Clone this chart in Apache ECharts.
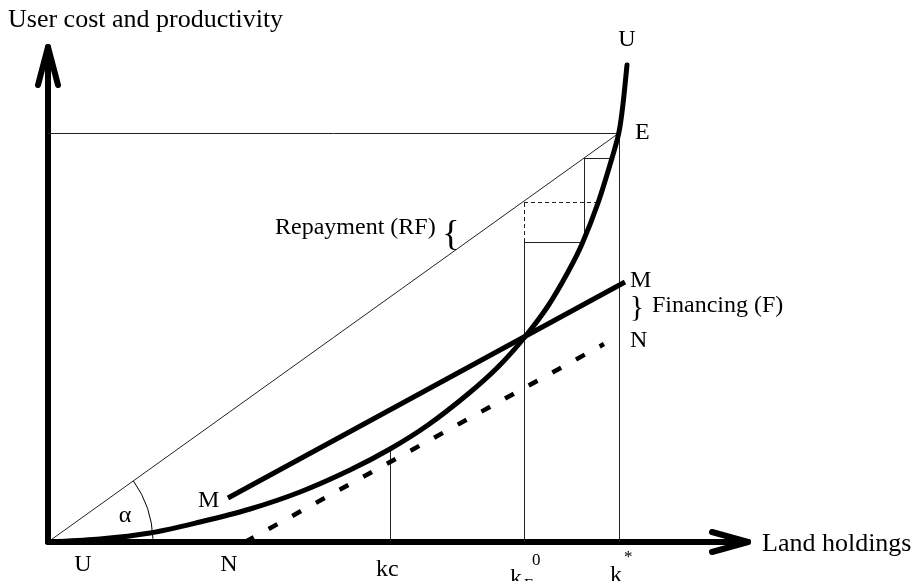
<!DOCTYPE html>
<html>
<head>
<meta charset="utf-8">
<script src="https://cdn.jsdelivr.net/npm/echarts@6/dist/echarts.min.js"></script>
<style>
  html, body { margin: 0; padding: 0; background: #fff; }
  #main { width: 916px; height: 581px; }
</style>
</head>
<body>
<div id="main"></div>
<script>
// key levels of the diagram (land holdings on x, user cost / productivity on y)
var kStar = 571, kF0 = 476, kc = 342, eLevel = 409;

// user cost curve U
var curveU = [[0,0],[52,3],[102,9],[152,20],[202,33],[252,50],[302,72],[342,93],[380,117],[420,148],
  [450,175],[476,204],[500,236],[520,270],[534,298],[550,339],[564,384],[571,410],[575,438],[579,477]];
// productivity with financing (M) and without (N)
var lineM = [[180,44],[577,260]];
var lineN = [[197,0],[556,198]];

// thin construction lines
var thinSegments = [
  [[0,eLevel],[kStar,eLevel]],
  [[0,0],[kStar,eLevel]],
  [[kStar,0],[kStar,eLevel]],
  [[kc,0],[kc,92]],
  [[kF0,0],[kF0,300]],
  [[kF0,300],[534,300]],
  [[536,300],[536,384]],
  [[536,384],[564,384]]
];
var dashedSegments = [
  [[kF0,300],[kF0,340]],
  [[kF0,340],[550,340]]
];

// axis arrow heads
var arrowX = [[664,10],[700,0],[664,-10]];
var arrowY = [[-10,457],[0,495],[10,457]];

var myChart = echarts.init(document.getElementById('main'));
var serif = '"Liberation Serif", "DejaVu Serif", serif';

function txt(text, x, y, size, align) {
  return {
    type: 'text', x: x, y: y, z: 100,
    style: {
      text: text, fill: '#000', font: size + 'px ' + serif,
      textAlign: align || 'left', textVerticalAlign: 'middle'
    }
  };
}

// smooth path through the points (catmull-rom -> cubic bezier)
function smoothPath(pts) {
  var d = 'M' + pts[0][0] + ' ' + pts[0][1];
  for (var i = 0; i < pts.length - 1; i++) {
    var p0 = pts[Math.max(i - 1, 0)], p1 = pts[i], p2 = pts[i + 1], p3 = pts[Math.min(i + 2, pts.length - 1)];
    var c1 = [p1[0] + (p2[0] - p0[0]) / 6, p1[1] + (p2[1] - p0[1]) / 6];
    var c2 = [p2[0] - (p3[0] - p1[0]) / 6, p2[1] - (p3[1] - p1[1]) / 6];
    d += ' C' + c1[0] + ' ' + c1[1] + ' ' + c2[0] + ' ' + c2[1] + ' ' + p2[0] + ' ' + p2[1];
  }
  return d;
}

option = {
  backgroundColor: '#fff',
  animation: false,
  grid: { left: 48, right: 168, top: 47, bottom: 39 },
  xAxis: {
    type: 'value', min: 0, max: 700,
    axisLine: { show: true, lineStyle: { color: '#000', width: 6 } },
    axisTick: { show: false }, axisLabel: { show: false }, splitLine: { show: false }
  },
  yAxis: {
    type: 'value', min: 0, max: 495,
    axisLine: { show: true, lineStyle: { color: '#000', width: 6 } },
    axisTick: { show: false }, axisLabel: { show: false }, splitLine: { show: false }
  },
  series: [
    {
      type: 'lines', coordinateSystem: 'cartesian2d', silent: true,
      lineStyle: { color: '#222', width: 1, opacity: 1 },
      data: thinSegments.map(function (s) { return { coords: s }; })
    },
    {
      type: 'lines', coordinateSystem: 'cartesian2d', silent: true,
      lineStyle: { color: '#222', width: 1, type: [4, 3], opacity: 1 },
      data: dashedSegments.map(function (s) { return { coords: s }; })
    },
    {
      type: 'custom', silent: true, data: [[0, 0]],
      renderItem: function (params, api) {
        var c = api.coord([0, 0]);
        var e = api.coord([kStar, eLevel]);
        var a = Math.atan2(e[1] - c[1], e[0] - c[0]);
        return {
          type: 'arc',
          shape: { cx: c[0], cy: c[1], r: 105, startAngle: a, endAngle: -0.03, clockwise: true },
          style: { stroke: '#000', lineWidth: 1, fill: null }
        };
      }
    },
    {
      type: 'custom', silent: true, clip: false, data: curveU,
      renderItem: function (params, api) {
        if (params.dataIndex !== 0) return null;
        var pts = curveU.map(function (p) { return api.coord(p); });
        return {
          type: 'path',
          shape: { pathData: smoothPath(pts) },
          style: { stroke: '#000', lineWidth: 5, fill: null, lineCap: 'round' }
        };
      }
    },
    {
      type: 'line', data: lineM, showSymbol: false,
      lineStyle: { color: '#000', width: 5 }, silent: true
    },
    {
      type: 'line', data: lineN, showSymbol: false,
      lineStyle: { color: '#000', width: 4.5, type: [10, 17] }, silent: true
    },
    {
      type: 'lines', coordinateSystem: 'cartesian2d', polyline: true, clip: false, silent: true,
      lineStyle: { color: '#000', width: 6, cap: 'round', join: 'round', opacity: 1 },
      data: [{ coords: arrowX }, { coords: arrowY }]
    }
  ],
  graphic: [
    txt('User cost and productivity', 8, 20, 26),
    txt('Land holdings', 762, 544, 26),
    txt('U', 627, 40, 24, 'center'),
    txt('E', 635, 133, 24),
    txt('Repayment (RF)', 275, 228, 24),
    txt('{', 451, 236, 36, 'center'),
    txt('M', 630, 281, 24),
    txt('}', 637, 308, 30, 'center'),
    txt('Financing (F)', 652, 306, 24),
    txt('N', 630, 341, 24),
    txt('M', 198, 501, 24),
    txt('\u03b1', 125, 516, 24, 'center'),
    txt('U', 83, 565, 24, 'center'),
    txt('N', 229, 565, 24, 'center'),
    txt('kc', 376, 570, 24),
    txt('k', 510, 579, 24),
    txt('F', 524, 586, 16),
    txt('0', 532, 561, 17),
    txt('k', 610, 576, 24),
    txt('*', 624, 558, 17)
  ]
};
myChart.setOption(option);
</script>
</body>
</html>
